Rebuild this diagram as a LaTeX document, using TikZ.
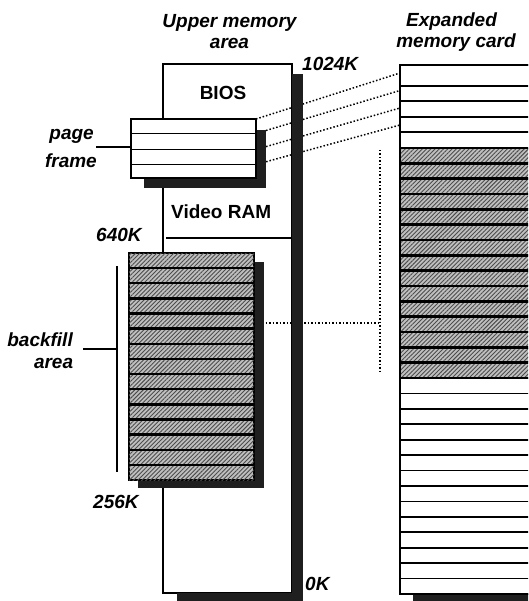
\documentclass[tikz,border=0pt]{standalone}
\usepackage{fontspec}
\setmainfont{Liberation Sans}
\usetikzlibrary{patterns.meta,calc}
\tikzset{
  lbl/.style={font=\fontsize{19}{22}\selectfont\bfseries\itshape, inner sep=0pt},
  plain/.style={font=\fontsize{19}{22}\selectfont\bfseries, inner sep=0pt},
  shadowfill/.style={fill=black!88, draw=none},
  hatch/.style={fill=gray!50, postaction={pattern={Lines[angle=45,distance=3pt,line width=0.9pt]}, pattern color=black!70}},
  border/.style={draw=black, line width=1.8pt},
  rowline/.style={line width=1.7pt},
  darkrow/.style={line width=2.4pt},
  dots/.style={dotted, line width=1.5pt},
  box/.style={rectangle, inner sep=0pt, outer sep=0pt, anchor=north west},
}
\begin{document}
\begin{tikzpicture}[x=1pt,y=-1pt]
\useasboundingbox (0,0) rectangle (528,601);
% ---------- headings ----------
\node[lbl, anchor=base] (umah1) at (229.5,27.3) {Upper memory};
\node[lbl, anchor=base] (umah2) at (229.5,48.3) {area};
\node[lbl, anchor=base] (emc1) at (451.5,27) {Expanded};
\node[lbl, anchor=base] (emc2) at (456,48) {memory card};
% ---------- main box ----------
\node[box, minimum width=129pt, minimum height=529pt, fill=white, border] (uma) at (163,64) {};
\draw[rowline] (166,237.7) -- (uma.east |- 0,237.7) coordinate (l640);
% dotted connectors (behind shadows)
\coordinate (p1) at (256,119);
\coordinate (p2) at (256,133.5);
\coordinate (p3) at (256,149.5);
\coordinate (p4) at (256,164.5);
\coordinate (c1) at (400,73);
\coordinate (c2) at (400,90.5);
\coordinate (c3) at (400,108);
\coordinate (c4) at (400,125);
\coordinate (vtop) at (380,150);
\coordinate (vbot) at (380,374);
\coordinate (vmid) at (380,323);
\coordinate (bfe) at (248,323);
\draw[dots] (p1) -- (c1);
\draw[dots] (p2) -- (c2);
\draw[dots] (p3) -- (c3);
\draw[dots] (p4) -- (c4);
\draw[dots] (bfe) -- (vmid);
\draw[dots] (vtop) -- (vbot);
% main shadow
\fill[shadowfill] (292,74) rectangle (303,601);
\fill[shadowfill] (177,593) rectangle (303,601);
% texts in main box
\node[plain, anchor=base] (bios) at (223,100) {BIOS};
\node[plain, anchor=base west] (vram) at (171,218.3) {Video RAM};
\node[lbl, anchor=base west] (k1024) at (302,71) {1024K};
\node[lbl, anchor=base west] (k640) at (96,241.7) {640K};
\node[lbl, anchor=base west] (k256) at (93,508) {256K};
\node[lbl, anchor=base west] (k0) at (305,590.7) {0K};
% ---------- page frame ----------
\fill[shadowfill] (256,130) rectangle (266,188);
\fill[shadowfill] (144,178) rectangle (266,188);
\node[box, minimum width=125pt, minimum height=59pt, fill=white, border] (pf) at (131,119) {};
\foreach \yy in {133.5,149.5,164.5}
  \draw[rowline] (131,\yy) -- (256,\yy);
\node[lbl, anchor=base east] (pg) at (94,140) {page};
\node[lbl, anchor=base east] (fr) at (97,168) {frame};
\draw[rowline] (96,146.7) -- (pf.west |- 0,146.7);
% ---------- backfill ----------
\fill[shadowfill] (254,262) rectangle (264,488);
\fill[shadowfill] (138,480) rectangle (264,488);
\node[box, minimum width=125pt, minimum height=227pt, hatch, border] (bf) at (129,253) {};
\foreach \i in {1,...,14}
  \draw[darkrow] (129,253+\i*15.133) -- (254,253+\i*15.133);
\node[lbl, anchor=base east] (bfl) at (73,346.7) {backfill};
\node[lbl, anchor=base east] (arl) at (73.3,368) {area};
\draw[rowline] (117,266) -- (117,472);
\draw[rowline] (83,349) -- (117,349);
% ---------- expanded memory card ----------
\begin{scope}
\clip (0,0) rectangle (528,601);
\fill[shadowfill] (413,594) rectangle (545,601);
\node[box, minimum width=140pt, minimum height=529pt, fill=white, border] (card) at (400,65) {};
\fill[hatch] (400,148) rectangle (540,378);
\foreach \yy in {86,101,117,132}
  \draw[rowline] (400,\yy) -- (540,\yy);
\foreach \i in {0,...,15}
  \draw[darkrow] (400,148+\i*15.333) -- (540,148+\i*15.333);
\foreach \i in {1,...,13}
  \draw[rowline] (400,378+\i*15.43) -- (540,378+\i*15.43);
\draw[border] (400,65) -- (540,65);
\draw[border] (400,65) -- (400,594) -- (540,594);
\end{scope}
\end{tikzpicture}
\end{document}
